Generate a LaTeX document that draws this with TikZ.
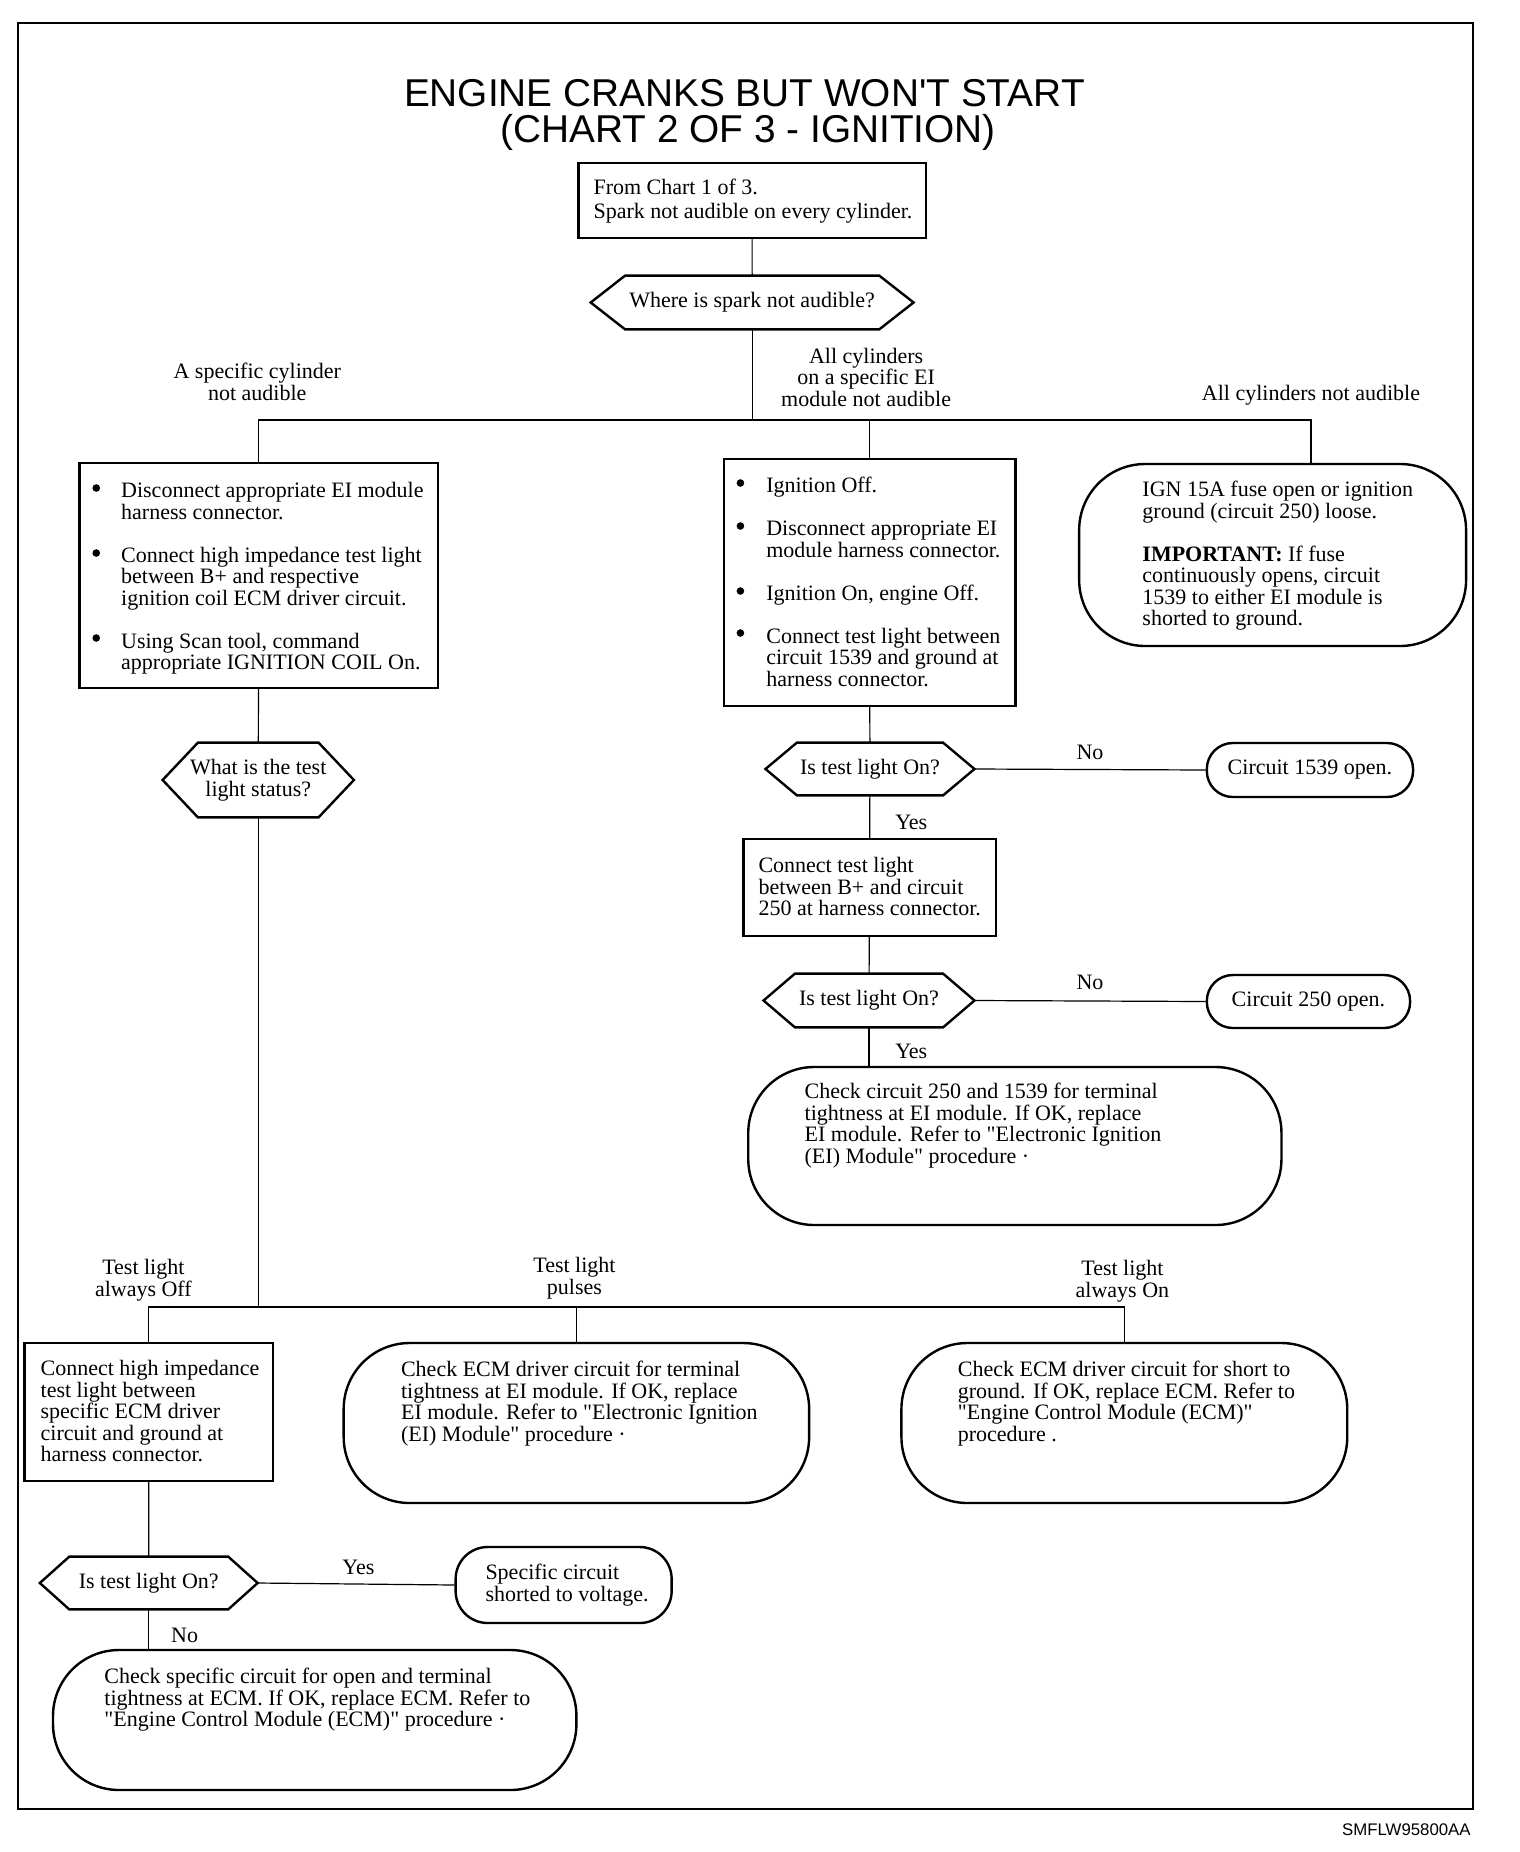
\documentclass[tikz,border=0pt]{standalone}
\usepackage{fontspec}
\setmainfont{Liberation Serif}
\newfontfamily\titlefont{Liberation Sans}
\usetikzlibrary{fit}
\newcommand\bodyfont{\fontsize{11}{10.75}\selectfont}
\newcommand\qq{\textquotedbl}
\newcommand\hexoutline[2]{\draw[line width=1.2pt] (#1.west) -- ([xshift=#2]#1.north west) -- ([xshift=-#2]#1.north east) -- (#1.east) -- ([xshift=-#2]#1.south east) -- ([xshift=#2]#1.south west) -- cycle;}
\tikzset{
  bx/.style={draw, line width=1.2pt, inner sep=0pt},
  hexn/.style={inner sep=0pt},
  txt/.style={anchor=north west, inner sep=0pt, align=left, font=\bodyfont},
  lbl/.style={inner sep=0pt, align=center, font=\bodyfont},
  bul/.style={circle, fill, inner sep=0pt, minimum size=3.8pt},
  con/.style={line width=0.6pt},
}
\begin{document}
\begin{tikzpicture}[x=0.5pt, y=-0.5pt]
\useasboundingbox (0,0) rectangle (1520,1852);
\begin{scope}[xscale=0.982]
\draw[line width=0.9pt] (18,23) rectangle (1500,1809);

% title
\node[anchor=base, inner sep=0pt, font=\titlefont\fontsize{19.4}{22}\selectfont] (title1) at (758,106) {ENGINE CRANKS BUT WON\textquotesingle T START};
\node[anchor=base, inner sep=0pt, font=\titlefont\fontsize{19.4}{22}\selectfont] (title2) at (762,142.5) {(CHART 2 OF 3 - IGNITION)};

% shapes
\node[bx, fit={(589,163) (943,238)}] (start) {};
\node[hexn, fit={(602,276) (930,329)}] (hex1) {};
\hexoutline{hex1}{17.5pt}
\node[bx, fit={(81,463) (446,688)}] (leftbox) {};
\node[bx, fit={(737,459) (1034,706)}] (midbox) {};
\node[bx, rounded corners=33pt, fit={(1099,464) (1493,646)}] (ign) {};
\node[hexn, fit={(166,743) (360,817)}] (hexL) {};
\hexoutline{hexL}{18pt}
\node[hexn, fit={(780,743) (992,795)}] (hex2) {};
\hexoutline{hex2}{16pt}
\node[bx, rounded corners=13pt, fit={(1229,743) (1439,797)}] (c1539) {};
\node[bx, fit={(757,839) (1014,936)}] (box250) {};
\node[hexn, fit={(778,974) (992,1027)}] (hex3) {};
\hexoutline{hex3}{16pt}
\node[bx, rounded corners=13pt, fit={(1229,975) (1436,1028)}] (c250) {};
\node[bx, rounded corners=33pt, fit={(762,1067) (1305,1225)}] (check1) {};
\node[bx, fit={(25,1343) (278,1481)}] (botleft) {};
\node[bx, rounded corners=33pt, fit={(350,1343) (824,1503)}] (botmid) {};
\node[bx, rounded corners=33pt, fit={(918,1343) (1372,1503)}] (botright) {};
\node[hexn, fit={(41,1557) (262,1609)}] (hex4) {};
\hexoutline{hex4}{15pt}
\node[bx, rounded corners=16pt, fit={(464,1547) (684,1623)}] (spec) {};
\node[bx, rounded corners=33pt, fit={(54,1650) (587,1790)}] (check2) {};

% centred texts
\node[lbl] (thex1) at (hex1.center) {Where is spark not audible?};
\node[lbl] (thexL) at (hexL.center) {What is the test\\light status?};
\node[lbl] (thex2) at (hex2.center) {Is test light On?};
\node[lbl] (thex3) at (hex3.center) {Is test light On?};
\node[lbl] (thex4) at (hex4.center) {Is test light On?};
\node[lbl] (tc1539) at (c1539.center) {Circuit 1539 open.};
\node[lbl] (tc250) at (c250.center) {Circuit 250 open.};

% texts in boxes
\node[txt] (tstart) at (604,178.5) {From Chart 1 of 3.\\[1.1pt]Spark not audible on every cylinder.};
\node[bul] (bl1) at (98,488) {};
\node[bul] (bl2) at (98,553) {};
\node[bul] (bl3) at (98,638) {};
\node[txt] (tleft) at (123,482) {Disconnect appropriate EI module\\harness connector.\\[10.75pt]Connect high impedance test light\\between B+ and respective\\ignition coil ECM driver circuit.\\[10.75pt]Using Scan tool, command\\appropriate IGNITION COIL On.};
\node[bul] (bm1) at (754,483) {};
\node[bul] (bm2) at (754,526) {};
\node[bul] (bm3) at (754,591) {};
\node[bul] (bm4) at (754,633) {};
\node[txt] (tmid) at (780,477) {Ignition Off.\\[10.75pt]Disconnect appropriate EI\\module harness connector.\\[10.75pt]Ignition On, engine Off.\\[10.75pt]Connect test light between\\circuit 1539 and ground at\\harness connector.};
\node[txt] (tign) at (1163,481) {IGN 15A fuse open or ignition\\ground (circuit 250) loose.\\[10.75pt]\textbf{IMPORTANT:} If fuse\\continuously opens, circuit\\1539 to either EI module is\\shorted to ground.};
\node[txt] (t250) at (772,857) {Connect test light\\between B+ and circuit\\250 at harness connector.};
\node[txt] (tcheck1) at (819,1083) {Check circuit 250 and 1539 for terminal\\tightness at EI module. If OK, replace\\EI module. Refer to \qq Electronic Ignition\\(EI) Module\qq{} procedure ·};
\node[txt] (tbotleft) at (41,1360) {Connect high impedance\\test light between\\specific ECM driver\\circuit and ground at\\harness connector.};
\node[txt] (tbotmid) at (408,1361) {Check ECM driver circuit for terminal\\tightness at EI module. If OK, replace\\EI module. Refer to \qq Electronic Ignition\\(EI) Module\qq{} procedure ·};
\node[txt] (tbotright) at (975,1361) {Check ECM driver circuit for short to\\ground. If OK, replace ECM. Refer to\\\qq Engine Control Module (ECM)\qq\\procedure .};
\node[txt] (tspec) at (494,1564) {Specific circuit\\shorted to voltage.};
\node[txt] (tcheck2) at (106,1668) {Check specific circuit for open and terminal\\tightness at ECM. If OK, replace ECM. Refer to\\\qq Engine Control Module (ECM)\qq{} procedure ·};

% labels
\node[lbl] (la) at (262,382) {A specific cylinder\\not audible};
\node[lbl] (lb) at (882,377) {All cylinders\\on a specific EI\\module not audible};
\node[lbl] (lc) at (1335,395) {All cylinders not audible};
\node[lbl] (no1) at (1110,752) {No};
\node[lbl] (yes1) at (928,822) {Yes};
\node[lbl] (no2) at (1110,982) {No};
\node[lbl] (yes2) at (928,1051) {Yes};
\node[lbl] (ld) at (146,1280) {Test light\\always Off};
\node[lbl] (le) at (585,1278) {Test light\\pulses};
\node[lbl] (lf) at (1143,1281) {Test light\\always On};
\node[lbl] (yes3) at (365,1567) {Yes};
\node[lbl] (no3) at (188,1635) {No};
\node[anchor=east, inner sep=0pt, font=\titlefont\fontsize{8.4}{10}\selectfont] (foot) at (1498,1830) {SMFLW95800AA};

% connectors
\coordinate (jy) at (0,420);
\coordinate (jr) at (1335,420);
\coordinate (ky) at (0,1307);
\draw[con] (start) -- (hex1);
\draw[con] (hex1.south) -- (hex1.south |- jy);
\draw[con] (leftbox.north) -- (leftbox.north |- jy) -- (jr) -- (jr |- ign.north);
\draw[con] (midbox.north) -- (midbox.north |- jy);
\draw[con] (leftbox) -- (hexL);
\draw[con] (hexL.south) -- (hexL.south |- ky);
\draw[con] (botleft.north) -- (botleft.north |- ky) -- (botright.north |- ky) -- (botright.north);
\draw[con] (botmid.north) -- (botmid.north |- ky);
\draw[con] (midbox) -- (hex2);
\draw[con] (hex2.east) -- (c1539.west);
\draw[con] (hex2) -- (box250);
\draw[con] (box250) -- (hex3);
\draw[con] (hex3.east) -- (c250.west);
\draw[con] (hex3.south) -- (hex3.south |- check1.north);
\draw[con] (botleft) -- (hex4);
\draw[con] (hex4.east) -- (spec.west);
\draw[con] (hex4.south) -- (hex4.south |- check2.north);
\end{scope}
\end{tikzpicture}
\end{document}
